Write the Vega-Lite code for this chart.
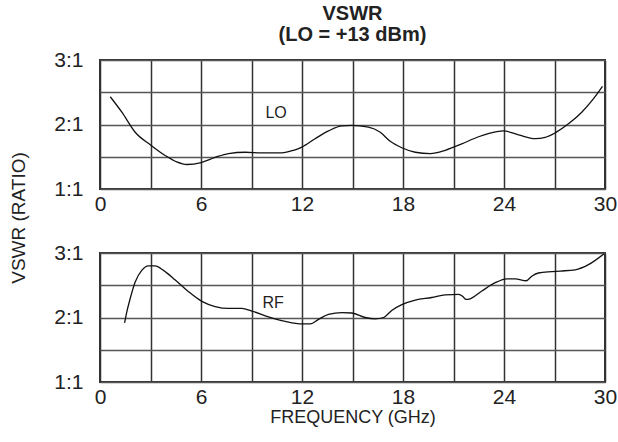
{
  "$schema": "https://vega.github.io/schema/vega-lite/v6.json",
  "background": "white",
  "padding": {"left": 8, "top": 3, "right": 5, "bottom": 5},
  "bounds": "flush",
  "spacing": 64,
  "datasets": {
    "lo": [
      {"f": 0.61, "v": 2.43}, {"f": 1.30, "v": 2.19}, {"f": 2.09, "v": 1.88}, {"f": 3.02, "v": 1.68},
      {"f": 3.87, "v": 1.52}, {"f": 4.56, "v": 1.42}, {"f": 5.16, "v": 1.38}, {"f": 6.01, "v": 1.41},
      {"f": 6.84, "v": 1.49}, {"f": 7.63, "v": 1.55}, {"f": 8.63, "v": 1.57}, {"f": 9.61, "v": 1.56},
      {"f": 10.8, "v": 1.56}, {"f": 11.5, "v": 1.60}, {"f": 11.99, "v": 1.65}, {"f": 12.78, "v": 1.78},
      {"f": 13.57, "v": 1.90}, {"f": 14.37, "v": 1.98}, {"f": 14.96, "v": 1.985}, {"f": 15.95, "v": 1.96},
      {"f": 16.65, "v": 1.88}, {"f": 17.24, "v": 1.74}, {"f": 17.93, "v": 1.64}, {"f": 18.73, "v": 1.57},
      {"f": 19.62, "v": 1.55}, {"f": 20.51, "v": 1.60}, {"f": 21.49, "v": 1.70}, {"f": 22.49, "v": 1.81},
      {"f": 23.57, "v": 1.89}, {"f": 23.97, "v": 1.90}, {"f": 24.86, "v": 1.84}, {"f": 25.85, "v": 1.78},
      {"f": 26.45, "v": 1.80}, {"f": 27.04, "v": 1.87}, {"f": 27.83, "v": 2.01}, {"f": 28.62, "v": 2.19},
      {"f": 29.32, "v": 2.40}, {"f": 29.85, "v": 2.59}
    ],
    "rf": [
      {"f": 1.46, "v": 1.915}, {"f": 1.59, "v": 2.085}, {"f": 1.79, "v": 2.29}, {"f": 2.09, "v": 2.55},
      {"f": 2.48, "v": 2.73}, {"f": 2.88, "v": 2.80}, {"f": 3.28, "v": 2.80}, {"f": 3.77, "v": 2.73},
      {"f": 4.47, "v": 2.58}, {"f": 5.26, "v": 2.40}, {"f": 6.05, "v": 2.25}, {"f": 6.84, "v": 2.17},
      {"f": 7.63, "v": 2.14}, {"f": 8.42, "v": 2.14}, {"f": 9.02, "v": 2.10}, {"f": 10.01, "v": 2.01},
      {"f": 11.0, "v": 1.94}, {"f": 11.99, "v": 1.90}, {"f": 12.49, "v": 1.90}, {"f": 12.98, "v": 1.97},
      {"f": 13.57, "v": 2.05}, {"f": 14.37, "v": 2.075}, {"f": 14.96, "v": 2.07}, {"f": 15.75, "v": 2.00},
      {"f": 16.35, "v": 1.98}, {"f": 16.84, "v": 2.00}, {"f": 17.33, "v": 2.11}, {"f": 17.93, "v": 2.20},
      {"f": 18.73, "v": 2.27}, {"f": 19.71, "v": 2.31}, {"f": 20.51, "v": 2.35}, {"f": 21.30, "v": 2.36},
      {"f": 21.54, "v": 2.33}, {"f": 21.73, "v": 2.28}, {"f": 21.99, "v": 2.29}, {"f": 22.68, "v": 2.41},
      {"f": 23.48, "v": 2.54}, {"f": 24.17, "v": 2.60}, {"f": 24.67, "v": 2.60}, {"f": 25.32, "v": 2.57},
      {"f": 25.65, "v": 2.64}, {"f": 26.05, "v": 2.69}, {"f": 26.84, "v": 2.71}, {"f": 27.34, "v": 2.72},
      {"f": 28.23, "v": 2.74}, {"f": 29.02, "v": 2.82}, {"f": 29.95, "v": 2.99}
    ],
    "lolabel": [{"f": 10.46, "v": 2.18, "label": "LO"}],
    "rflabel": [{"f": 10.28, "v": 2.22, "label": "RF"}]
  },
  "vconcat": [
    {
      "width": 505,
      "height": 129,
      "title": {
        "text": ["VSWR", "(LO = +13 dBm)"],
        "anchor": "middle",
        "frame": "group",
        "font": "Liberation Sans",
        "fontWeight": "bold",
        "fontSize": 20,
        "lineHeight": 21,
        "baseline": "bottom",
        "offset": -16,
        "color": "#222"
      },
      "layer": [
        {
          "data": {"name": "lo"},
          "mark": {"type": "line", "color": "#111", "strokeWidth": 1.3, "interpolate": "monotone"},
          "encoding": {
            "x": {"field": "f", "type": "quantitative", "scale": {"domain": [0, 30], "nice": false},
              "axis": {"title": null, "values": [0,3,6,9,12,15,18,21,24,27,30], "tickCount": 20, "labelExpr": "datum.value % 6 == 0 ? datum.value : ''"}},
            "y": {"field": "v", "type": "quantitative", "scale": {"domain": [1, 3], "nice": false, "zero": false},
              "axis": {"title": "VSWR (RATIO)", "values": [1,1.5,2,2.5,3], "tickCount": 10, "labelExpr": "datum.value % 1 == 0 ? datum.value + ':1' : ''",
                "titleX": -82, "titleY": 157.5, "titleAngle": 270, "titleAlign": "center", "titleBaseline": "middle"}}
          }
        },
        {
          "data": {"name": "lolabel"},
          "mark": {"type": "text", "font": "Liberation Sans", "fontSize": 16, "color": "#222"},
          "encoding": {
            "x": {"field": "f", "type": "quantitative"},
            "y": {"field": "v", "type": "quantitative"},
            "text": {"field": "label"}
          }
        }
      ]
    },
    {
      "width": 505,
      "height": 129,
      "layer": [
        {
          "data": {"name": "rf"},
          "mark": {"type": "line", "color": "#111", "strokeWidth": 1.3, "interpolate": "monotone"},
          "encoding": {
            "x": {"field": "f", "type": "quantitative", "scale": {"domain": [0, 30], "nice": false},
              "axis": {"title": "FREQUENCY (GHz)", "titleFontSize": 18, "values": [0,3,6,9,12,15,18,21,24,27,30], "tickCount": 20, "labelExpr": "datum.value % 6 == 0 ? datum.value : ''"}},
            "y": {"field": "v", "type": "quantitative", "scale": {"domain": [1, 3], "nice": false, "zero": false},
              "axis": {"title": null, "values": [1,1.5,2,2.5,3], "tickCount": 10, "labelExpr": "datum.value % 1 == 0 ? datum.value + ':1' : ''"}}
          }
        },
        {
          "data": {"name": "rflabel"},
          "mark": {"type": "text", "font": "Liberation Sans", "fontSize": 16, "color": "#222"},
          "encoding": {
            "x": {"field": "f", "type": "quantitative"},
            "y": {"field": "v", "type": "quantitative"},
            "text": {"field": "label"}
          }
        }
      ]
    }
  ],
  "config": {
    "view": {"stroke": "#333", "strokeWidth": 2},
    "axis": {
      "domain": false,
      "ticks": false,
      "grid": true,
      "gridWidth": 1.5,
      "gridOpacity": 1,
      "labelFlush": false,
      "labelFont": "Liberation Sans",
      "labelFontSize": 21,
      "labelColor": "#222",
      "titleFont": "Liberation Sans",
      "titleFontSize": 19,
      "titleFontWeight": "normal",
      "titleColor": "#222"
    },
    "axisX": {"labelPadding": 4, "titlePadding": 1, "gridColor": "#333"},
    "axisY": {"labelPadding": 17, "gridColor": "#555"}
  }
}
